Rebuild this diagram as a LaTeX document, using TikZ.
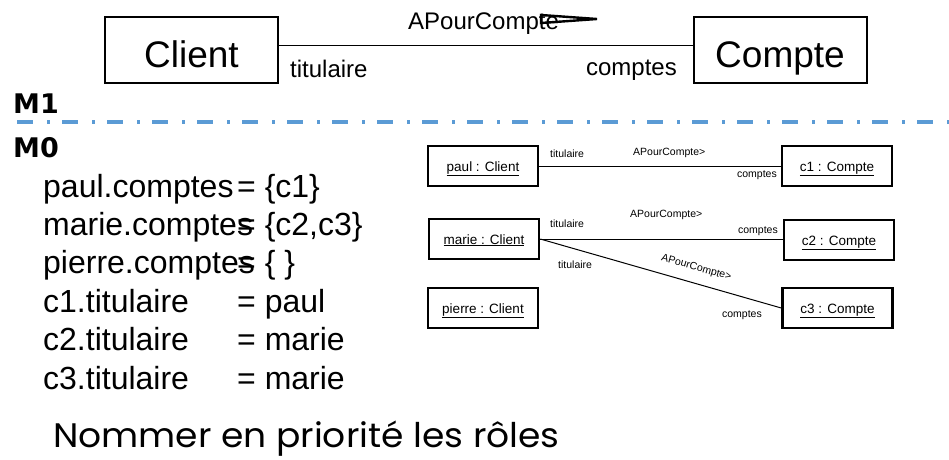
\documentclass[tikz,border=0pt]{standalone}
\usepackage{fontspec}
\setmainfont{Liberation Sans}
\newfontfamily\levelfont{DejaVu Sans}
\newfontfamily\gothicfont{Poppins}[FakeStretch=1.06]
\newcommand\fsz[1]{\fontsize{#1}{#1}\selectfont}
\definecolor{levelblue}{HTML}{5B9BD5}
\tikzset{
  classbox/.style={draw, line width=2pt, minimum width=173pt, minimum height=66pt, inner sep=0pt,
    text height=40pt, text depth=6pt, font=\fsz{37}},
  objbox/.style={draw, line width=2.5pt, minimum width=110pt, minimum height=40pt, inner sep=0pt,
    text height=14pt, text depth=4pt, font=\fsz{13.5}},
  bigrole/.style={inner sep=0pt, font=\fsz{24}},
  smallrole/.style={inner sep=0pt, font=\fsz{10.5}},
  levellabel/.style={inner sep=0pt, anchor=base west, font=\levelfont\bfseries\fsz{27}},
  slotline/.style={inner sep=0pt, anchor=base west, font=\fsz{32}},
  link/.style={line width=1pt},
}
\begin{document}
\begin{tikzpicture}[x=1pt,y=-1pt]
\useasboundingbox (0,0) rectangle (949,459);

% class level (M1)
\node[classbox] (client) at (191.5,50) {Client};
\node[classbox] (compte) at (780,50) {Compte};
\draw[link] ([yshift=5pt]client.east) -- ([yshift=5pt]compte.west);
\node[bigrole, anchor=base west] (tit) at (290,77) {titulaire};
\node[bigrole, anchor=base east] (cpt) at (677,75) {comptes};
\node[bigrole, anchor=base west] (assoc) at (408,29) {APourCompte};
\coordinate (arrA) at (541,15);
\coordinate (arrB) at (597,19);
\coordinate (arrC) at (541,23);
\draw[line width=2.4pt, line join=miter] (arrA) -- (arrB) -- (arrC) -- cycle;

% level separator
\node[levellabel] (m1) at (13,113) {M1};
\node[levellabel] (m0) at (13,157) {M0};
\coordinate (sepL) at (17,122);
\coordinate (sepR) at (949,122);
\draw[levelblue, line width=4pt, dash pattern=on 16pt off 14pt on 3pt off 12pt] (sepL) -- (sepR);

% attribute values
\node[slotline] (a1) at (43,197) {paul.comptes};
\node[slotline] (b1) at (237,197) {= \{c1\}};
\node[slotline] (a2) at (43,235) {marie.comptes};
\node[slotline] (b2) at (237,235) {= \{c2,c3\}};
\node[slotline] (a3) at (43,273) {pierre.comptes};
\node[slotline] (b3) at (237,273) {= \{ \}};
\node[slotline] (a4) at (43,312) {c1.titulaire};
\node[slotline] (b4) at (237,312) {= paul};
\node[slotline] (a5) at (43,350) {c2.titulaire};
\node[slotline] (b5) at (237,350) {= marie};
\node[slotline] (a6) at (43,389) {c3.titulaire};
\node[slotline] (b6) at (237,389) {= marie};

\node[inner sep=0pt, anchor=base west, font=\gothicfont\fsz{34}] (note) at (53,447) {Nommer en priorité les rôles};

% object level (M0)
\node[objbox] (paul) at (483,166) {\underline{paul : Client}};
\node[objbox] (c1) at (837,166) {\underline{c1 : Compte}};
\node[objbox] (marie) at (484,239) {\underline{marie : Client}};
\node[objbox] (c2) at (839,240) {\underline{c2 : Compte}};
\node[objbox] (pierre) at (483,308) {\underline{pierre : Client}};
\node[objbox] (c3) at (837.5,308) {\underline{c3 : Compte}};

\draw[link] (paul.east) -- (c1.west);
\node[smallrole, anchor=base west] at (550,157) {titulaire};
\node[smallrole, anchor=base west] at (633,155) {APourCompte>};
\node[smallrole, anchor=base east] at (777,177) {comptes};

\draw[link] (marie.east) -- (marie.east -| c2.west);
\node[smallrole, anchor=base west] at (550,227) {titulaire};
\node[smallrole, anchor=base west] at (630,217) {APourCompte>};
\node[smallrole, anchor=base east] at (778,233) {comptes};

\draw[link] (marie.east) -- node[smallrole, pos=0.63, sloped, above=10pt] {APourCompte>} (c3.west);
\node[smallrole, anchor=base west] at (558,268) {titulaire};
\node[smallrole, anchor=base east] at (762,317) {comptes};
\end{tikzpicture}
\end{document}
